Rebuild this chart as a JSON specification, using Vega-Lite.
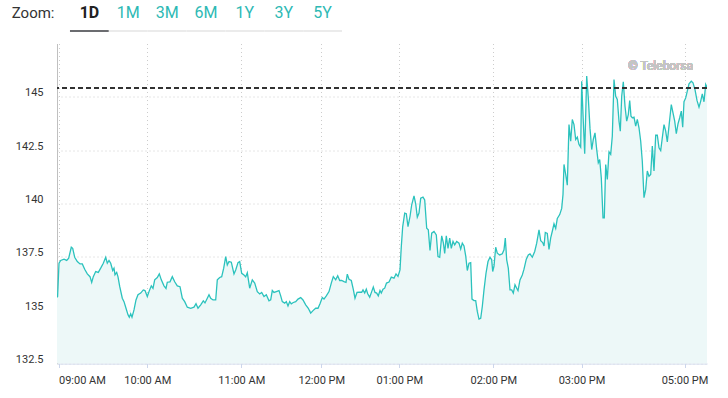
{
  "$schema": "https://vega.github.io/schema/vega-lite/v6.json",
  "background": "white",
  "padding": {"left": 11, "top": 4, "right": 5, "bottom": 3},
  "config": {"view": {"stroke": null}, "font": "Roboto"},
  "spacing": 11.5,
  "datasets": {
    "buttons": [
      {"b": "1D", "sel": true}, {"b": "1M", "sel": false}, {"b": "3M", "sel": false},
      {"b": "6M", "sel": false}, {"b": "1Y", "sel": false}, {"b": "3Y", "sel": false}, {"b": "5Y", "sel": false}
    ],
    "prices": [
      {"i":0,"v":135.6},{"i":0.6,"v":135.64},{"i":2,"v":137.2},{"i":3.7,"v":137.33},{"i":7,"v":137.39},{"i":9.7,"v":137.33},{"i":11.7,"v":137.44},{"i":14.3,"v":137.95},{"i":15.7,"v":137.9},{"i":17.7,"v":137.48},{"i":20.3,"v":137.28},{"i":23,"v":137.17},{"i":25.3,"v":137.17},{"i":27.7,"v":136.92},{"i":30.3,"v":136.7},{"i":33,"v":136.57},{"i":34.7,"v":136.3},{"i":36.3,"v":136.57},{"i":38.7,"v":136.81},{"i":41.3,"v":136.77},{"i":43.7,"v":136.97},{"i":46.3,"v":137.2},{"i":48.7,"v":137.48},{"i":50.3,"v":137.2},{"i":52,"v":137.33},{"i":53.7,"v":137.2},{"i":55.7,"v":136.86},{"i":57,"v":136.97},{"i":58,"v":136.66},{"i":59.7,"v":136.77},{"i":61,"v":136.56},{"i":62.7,"v":136.11},{"i":65.3,"v":135.56},{"i":67,"v":135.4},{"i":69,"v":135.09},{"i":71,"v":134.78},{"i":72.3,"v":134.67},{"i":73.7,"v":134.83},{"i":75,"v":134.67},{"i":77,"v":135.01},{"i":79,"v":135.48},{"i":81,"v":135.72},{"i":83.7,"v":135.8},{"i":86.3,"v":135.95},{"i":88,"v":135.92},{"i":90.3,"v":135.64},{"i":92,"v":135.87},{"i":94.3,"v":136.14},{"i":96,"v":136.02},{"i":97.7,"v":136.42},{"i":100.3,"v":136.53},{"i":102.3,"v":136.7},{"i":104.3,"v":136.42},{"i":107,"v":136.14},{"i":109,"v":136.02},{"i":110.3,"v":136.31},{"i":113,"v":136.33},{"i":115.3,"v":136.57},{"i":117.7,"v":136.33},{"i":120.3,"v":136.14},{"i":123,"v":136.1},{"i":125.3,"v":135.56},{"i":127.7,"v":135.4},{"i":130.3,"v":135.14},{"i":133.7,"v":135.09},{"i":137,"v":135.14},{"i":139,"v":135.3},{"i":141,"v":135.09},{"i":143.7,"v":135.25},{"i":146.3,"v":135.44},{"i":148,"v":135.34},{"i":150.3,"v":135.56},{"i":152,"v":135.72},{"i":153.7,"v":135.56},{"i":156,"v":135.48},{"i":158.7,"v":135.48},{"i":160.3,"v":136.42},{"i":162.7,"v":136.53},{"i":164.7,"v":136.57},{"i":166.7,"v":136.97},{"i":168.7,"v":137.51},{"i":170.3,"v":137.12},{"i":172,"v":137.28},{"i":174.3,"v":137.25},{"i":177,"v":136.7},{"i":178.7,"v":136.88},{"i":181,"v":137.23},{"i":182.7,"v":137.28},{"i":184.7,"v":136.73},{"i":187,"v":136.65},{"i":188.7,"v":136.56},{"i":190.3,"v":136.75},{"i":192.7,"v":136.03},{"i":195.3,"v":136.42},{"i":197.7,"v":136.27},{"i":200.3,"v":135.87},{"i":202.7,"v":135.76},{"i":204.7,"v":135.83},{"i":207,"v":135.64},{"i":209.3,"v":135.72},{"i":212,"v":135.44},{"i":213.7,"v":135.48},{"i":215.3,"v":135.92},{"i":217,"v":135.83},{"i":219.3,"v":135.87},{"i":222,"v":135.92},{"i":223.7,"v":135.67},{"i":225.3,"v":135.4},{"i":227.7,"v":135.33},{"i":229.3,"v":135.4},{"i":231,"v":135.2},{"i":232.7,"v":135.4},{"i":234.3,"v":135.3},{"i":236.3,"v":135.36},{"i":238.7,"v":135.4},{"i":241,"v":135.52},{"i":243.7,"v":135.59},{"i":246,"v":135.48},{"i":248.7,"v":135.25},{"i":251.3,"v":135.09},{"i":253.7,"v":134.86},{"i":256,"v":134.98},{"i":258.7,"v":135.09},{"i":261,"v":135.09},{"i":263,"v":135.3},{"i":265.3,"v":135.59},{"i":267,"v":135.52},{"i":269.3,"v":135.67},{"i":272,"v":135.87},{"i":274.3,"v":136.27},{"i":276.3,"v":136.57},{"i":278.7,"v":136.42},{"i":280.7,"v":136.61},{"i":282.7,"v":136.39},{"i":284.7,"v":136.39},{"i":287,"v":136.34},{"i":289,"v":136.3},{"i":290.3,"v":136.69},{"i":292,"v":136.45},{"i":294.3,"v":136.39},{"i":296.3,"v":135.98},{"i":298,"v":135.56},{"i":300,"v":135.83},{"i":302,"v":135.84},{"i":304.7,"v":135.84},{"i":306,"v":135.95},{"i":307.7,"v":135.8},{"i":309.3,"v":135.98},{"i":310.7,"v":135.77},{"i":312.7,"v":135.61},{"i":314.7,"v":135.87},{"i":316.3,"v":136.08},{"i":318,"v":135.83},{"i":319.7,"v":135.8},{"i":321.3,"v":135.67},{"i":323,"v":135.92},{"i":324.3,"v":135.8},{"i":326,"v":135.98},{"i":327.7,"v":136.03},{"i":329.5,"v":136.27},{"i":332,"v":136.32},{"i":334.3,"v":136.55},{"i":337,"v":136.5},{"i":339,"v":136.7},{"i":341,"v":136.58},{"i":343,"v":136.89},{"i":344.3,"v":137.98},{"i":345.7,"v":138.92},{"i":347.7,"v":139.55},{"i":349.3,"v":139.52},{"i":351,"v":138.92},{"i":353,"v":139.39},{"i":354.7,"v":139.94},{"i":357,"v":140.36},{"i":358.7,"v":139.98},{"i":360.3,"v":139.36},{"i":362,"v":139.55},{"i":363.7,"v":140.25},{"i":366,"v":140.3},{"i":367.7,"v":140.17},{"i":369.7,"v":138.84},{"i":371.3,"v":138.77},{"i":373,"v":137.8},{"i":374.7,"v":138.61},{"i":377,"v":138.69},{"i":379.3,"v":138.53},{"i":381,"v":137.51},{"i":382.7,"v":137.48},{"i":384.7,"v":138.48},{"i":386.3,"v":138.17},{"i":387.7,"v":137.66},{"i":389.3,"v":138.48},{"i":391,"v":137.9},{"i":392.7,"v":138.38},{"i":394.3,"v":137.9},{"i":396,"v":138.22},{"i":397.7,"v":138.06},{"i":399.7,"v":138.22},{"i":402,"v":138.14},{"i":403.7,"v":137.86},{"i":405.3,"v":138.14},{"i":407,"v":138.01},{"i":408.7,"v":137.55},{"i":410.3,"v":136.86},{"i":412,"v":137.2},{"i":413.7,"v":137.23},{"i":415,"v":135.52},{"i":417,"v":135.45},{"i":418.7,"v":135.45},{"i":420.3,"v":134.94},{"i":422,"v":134.58},{"i":423.7,"v":134.62},{"i":425.3,"v":135.17},{"i":427,"v":135.95},{"i":429,"v":136.73},{"i":431,"v":137.28},{"i":433,"v":137.48},{"i":434.7,"v":137.36},{"i":435.7,"v":136.81},{"i":437,"v":137.06},{"i":438.7,"v":137.95},{"i":440.3,"v":137.67},{"i":442.7,"v":137.59},{"i":445.3,"v":137.64},{"i":447,"v":137.83},{"i":448.3,"v":138.38},{"i":449.7,"v":137.36},{"i":451.3,"v":136.97},{"i":453,"v":135.95},{"i":454.7,"v":135.95},{"i":456.3,"v":135.8},{"i":458,"v":136.19},{"i":459.7,"v":136.03},{"i":461,"v":135.92},{"i":463,"v":136.42},{"i":465.3,"v":136.65},{"i":467,"v":136.92},{"i":469.3,"v":137.39},{"i":471.3,"v":137.59},{"i":473,"v":137.64},{"i":475.3,"v":137.48},{"i":477.7,"v":137.75},{"i":479.7,"v":138.14},{"i":482,"v":138.76},{"i":483.7,"v":138.26},{"i":485.7,"v":138.17},{"i":487,"v":138.01},{"i":488.3,"v":138.64},{"i":490.3,"v":138.6},{"i":492,"v":137.85},{"i":493.7,"v":138.39},{"i":495.3,"v":138.7},{"i":497,"v":139.05},{"i":498.7,"v":138.83},{"i":500.3,"v":139.3},{"i":502.7,"v":139.48},{"i":504.7,"v":139.77},{"i":506,"v":140.42},{"i":507,"v":141.83},{"i":508.7,"v":141.36},{"i":510.3,"v":140.86},{"i":512,"v":143.7},{"i":513.7,"v":142.92},{"i":515.3,"v":143.94},{"i":517,"v":143.7},{"i":518.7,"v":143.0},{"i":520.3,"v":143.11},{"i":522,"v":142.77},{"i":523.7,"v":142.64},{"i":524.7,"v":145.73},{"i":526,"v":144.17},{"i":527.7,"v":142.33},{"i":529.7,"v":145.97},{"i":531.3,"v":144.95},{"i":533,"v":143.52},{"i":534.7,"v":142.53},{"i":536.3,"v":143.0},{"i":538,"v":143.31},{"i":539.7,"v":142.53},{"i":541.3,"v":141.91},{"i":542.7,"v":142.06},{"i":544.3,"v":141.2},{"i":546,"v":139.33},{"i":547.3,"v":139.33},{"i":548.7,"v":141.83},{"i":550.3,"v":141.13},{"i":552,"v":142.42},{"i":553.7,"v":142.3},{"i":555.3,"v":143.16},{"i":557,"v":145.81},{"i":558.7,"v":145.03},{"i":560.3,"v":144.88},{"i":562,"v":143.86},{"i":563.3,"v":143.39},{"i":564.7,"v":145.03},{"i":566.3,"v":145.7},{"i":568,"v":144.56},{"i":569.7,"v":143.86},{"i":571.3,"v":144.17},{"i":572.7,"v":144.83},{"i":574,"v":144.09},{"i":575.3,"v":144.02},{"i":577,"v":144.05},{"i":578.7,"v":143.63},{"i":580.3,"v":143.94},{"i":582,"v":143.55},{"i":583.7,"v":142.92},{"i":585.3,"v":141.98},{"i":587,"v":140.27},{"i":588.7,"v":140.66},{"i":590.3,"v":141.52},{"i":592,"v":141.28},{"i":593.7,"v":141.36},{"i":595.3,"v":142.69},{"i":597,"v":141.52},{"i":598.7,"v":143.2},{"i":600.3,"v":143.2},{"i":602,"v":142.61},{"i":603.7,"v":142.48},{"i":605.3,"v":143.08},{"i":607,"v":143.7},{"i":608.7,"v":143.39},{"i":610.3,"v":142.89},{"i":612,"v":143.63},{"i":614.3,"v":144.64},{"i":616,"v":144.25},{"i":617.7,"v":143.86},{"i":619.3,"v":143.27},{"i":621,"v":143.73},{"i":622.7,"v":144.02},{"i":624.3,"v":144.33},{"i":625.7,"v":143.58},{"i":627,"v":144.77},{"i":628.7,"v":144.95},{"i":630.3,"v":145.27},{"i":632,"v":145.61},{"i":634.3,"v":145.73},{"i":636,"v":145.66},{"i":638,"v":145.34},{"i":640,"v":144.83},{"i":642,"v":144.52},{"i":643.7,"v":144.8},{"i":645.3,"v":145.14},{"i":647,"v":144.77},{"i":648.7,"v":145.58},{"i":650,"v":145.45}
    ]
  },
  "vconcat": [
    {
      "width": 298,
      "height": 28,
      "data": {"name": "buttons"},
      "encoding": {
        "x": {"field": "b", "type": "nominal", "scale": {"domain": ["1D","1M","3M","6M","1Y","3Y","5Y"], "paddingInner": 0, "paddingOuter": 0.334}, "axis": null}
      },
      "layer": [
        {
          "mark": {"type": "bar"},
          "encoding": {
            "y": {"datum": 0, "type": "quantitative", "scale": {"domain": [0, 1], "nice": false},
                  "axis": {"values": [0.68], "labelExpr": "'Zoom:'", "domain": false, "ticks": false, "grid": false, "title": null, "labelFontSize": 15, "labelColor": "#333333", "labelPadding": 3, "labelBaseline": "middle"}},
            "y2": {"datum": 0.07},
            "color": {"condition": {"test": "datum.sel", "value": "#6b6c70"}, "value": "#ebebeb"}
          }
        },
        {
          "transform": [{"filter": "datum.sel"}],
          "mark": {"type": "text", "fontSize": 16, "fontWeight": "bold", "color": "#222222", "baseline": "middle"},
          "encoding": {"y": {"datum": 0.68}, "text": {"field": "b"}}
        },
        {
          "transform": [{"filter": "!datum.sel"}],
          "mark": {"type": "text", "fontSize": 16, "color": "#2db9b4", "baseline": "middle"},
          "encoding": {"y": {"datum": 0.68}, "text": {"field": "b"}}
        }
      ]
    },
    {
      "width": 650,
      "height": 320,
      "data": {"name": "prices"},
      "encoding": {
        "x": {"field": "i", "type": "quantitative", "scale": {"domain": [0, 650], "nice": false, "zero": false},
              "axis": {"values": [1.5, 90.3, 184.3, 264.3, 342.3, 436.3, 524.5, 627.5],
                       "labelExpr": "datum.value < 40 ? '09:00 AM' : datum.value < 140 ? '10:00 AM' : datum.value < 220 ? '11:00 AM' : datum.value < 300 ? '12:00 PM' : datum.value < 400 ? '01:00 PM' : datum.value < 480 ? '02:00 PM' : datum.value < 580 ? '03:00 PM' : '05:00 PM'",
                       "grid": true, "gridColor": "#cccccc", "gridDash": [1, 3], "domainColor": "#ccd6eb", "tickColor": "#ccd6eb", "tickSize": 4,
                       "labelFontSize": 11, "labelColor": "#333333", "labelPadding": 7, "labelFlush": 2, "labelOverlap": false, "title": null}},
        "y": {"field": "v", "type": "quantitative", "scale": {"domain": [132.5, 147.5], "nice": false, "zero": false},
              "axis": {"values": [132.5, 135, 137.5, 140, 142.5, 145], "labelExpr": "'' + datum.value", "grid": true, "gridColor": "#cccccc", "gridDash": [1, 3],
                       "domainColor": "#c0c0c0", "ticks": false, "labelPadding": 14, "labelFontSize": 11, "labelColor": "#333333",
                       "labelBaseline": "alphabetic", "labelOffset": -1, "title": null}}
      },
      "layer": [
        {"mark": {"type": "area", "color": "#edf8f8", "clip": true}},
        {"mark": {"type": "line", "color": "#2bc2bd", "strokeWidth": 1.3, "clip": true}},
        {"mark": {"type": "rule", "color": "#333333", "strokeDash": [5, 3], "strokeWidth": 1},
         "encoding": {"x": null, "y": {"datum": 145.42}}},
        {"mark": {"type": "text", "text": "© Teleborsa", "align": "right", "baseline": "alphabetic", "fontSize": 12, "color": "#c4c4c4"},
         "encoding": {"x": {"datum": 636}, "y": {"datum": 146.25}}}
      ]
    }
  ]
}
